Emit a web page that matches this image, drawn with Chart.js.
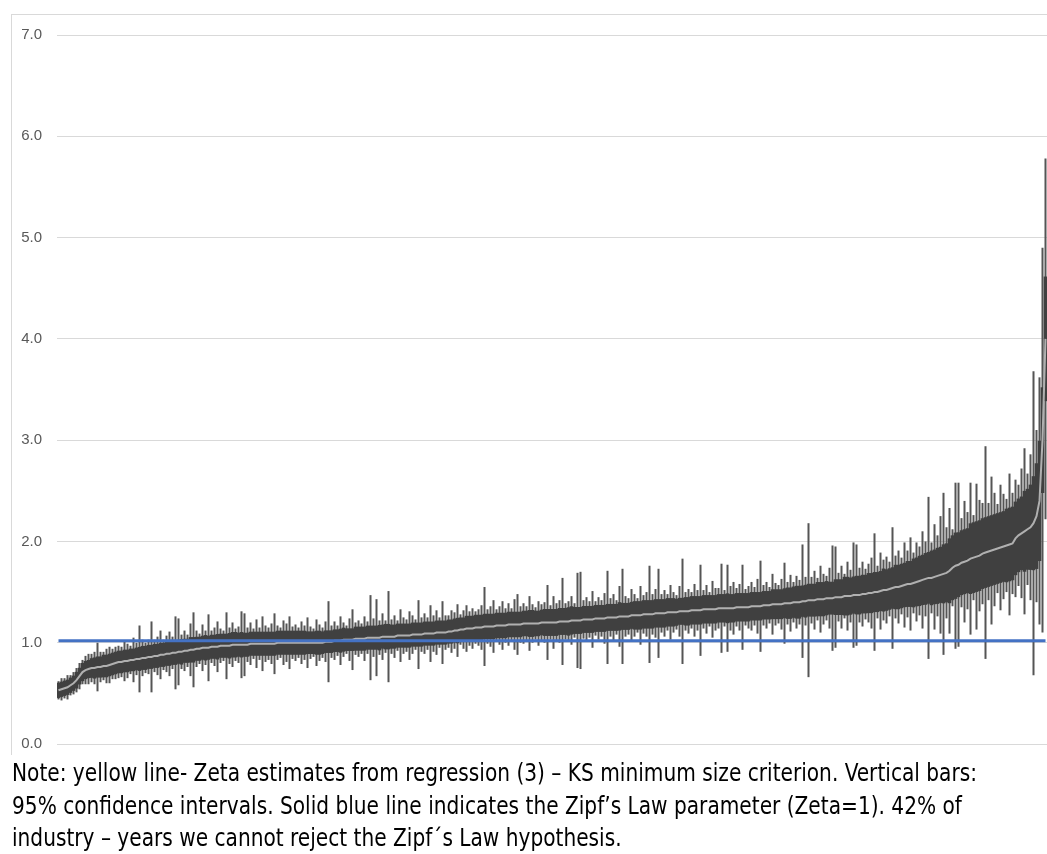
<!DOCTYPE html>
<html>
<head>
<meta charset="utf-8">
<script src="https://cdn.jsdelivr.net/npm/chart.js@4/dist/chart.umd.min.js"></script>
<style>
  body { margin: 0; background: #fff; width: 1047px; height: 854px; overflow: hidden; position: relative; }
  #frame { position: absolute; left: 11px; top: 14px; width: 1100px; height: 740px;
           border-left: 1.5px solid #d9d9d9; border-top: 1.5px solid #d9d9d9; }
  #c { position: absolute; left: 0; top: 0; }
  #note { position: absolute; left: 12px; top: 757px; transform-origin: 0 0;
          font-family: "DejaVu Sans Condensed", "Liberation Sans Narrow", "Liberation Sans", sans-serif;
          font-stretch: condensed;
          font-size: 24px; line-height: 32.5px; color: #000; }
  #note div { white-space: nowrap; width: max-content; }
</style>
</head>
<body>
<div id="frame"></div>
<canvas id="c" width="1047" height="768"></canvas>
<div id="note">
  <div>Note: yellow line- Zeta estimates from regression (3) – KS minimum size criterion. Vertical bars:</div>
  <div>95% confidence intervals. Solid blue line indicates the Zipf’s Law parameter (Zeta=1). 42% of</div>
  <div>industry – years we cannot reject the Zipf´s Law hypothesis.</div>
</div>
<script>
// zeta estimates, sorted (one per industry-year)
const zeta = [
  0.53,0.54,0.55,0.56,0.58,0.60,0.63,0.67,0.71,0.73,
  0.74,0.75,0.75,0.76,0.76,0.77,0.77,0.78,0.79,0.80,
  0.81,0.81,0.82,0.82,0.83,0.83,0.84,0.84,0.85,0.85,
  0.86,0.86,0.87,0.87,0.88,0.88,0.89,0.89,0.90,0.90,
  0.91,0.91,0.92,0.92,0.93,0.93,0.94,0.94,0.95,0.95,
  0.95,0.96,0.96,0.96,0.97,0.97,0.97,0.97,0.98,0.98,
  0.98,0.98,0.98,0.98,0.99,0.99,0.99,0.99,0.99,0.99,
  0.99,0.99,0.99,1.00,1.00,1.00,1.00,1.00,1.00,1.00,
  1.00,1.00,1.00,1.00,1.00,1.00,1.00,1.00,1.00,1.01,
  1.01,1.01,1.02,1.02,1.02,1.03,1.03,1.03,1.03,1.04,
  1.04,1.04,1.04,1.05,1.05,1.05,1.05,1.05,1.06,1.06,
  1.06,1.06,1.06,1.07,1.07,1.07,1.07,1.07,1.08,1.08,
  1.08,1.08,1.09,1.09,1.09,1.09,1.10,1.10,1.10,1.10,
  1.11,1.11,1.12,1.12,1.13,1.13,1.14,1.14,1.14,1.15,
  1.15,1.15,1.16,1.16,1.16,1.16,1.17,1.17,1.17,1.17,
  1.18,1.18,1.18,1.18,1.18,1.19,1.19,1.19,1.19,1.19,
  1.19,1.20,1.20,1.20,1.20,1.20,1.20,1.21,1.21,1.21,
  1.21,1.22,1.22,1.22,1.22,1.23,1.23,1.23,1.23,1.24,
  1.24,1.24,1.24,1.25,1.25,1.25,1.25,1.26,1.26,1.26,
  1.26,1.27,1.27,1.27,1.27,1.28,1.28,1.28,1.28,1.29,
  1.29,1.29,1.29,1.30,1.30,1.30,1.30,1.31,1.31,1.31,
  1.31,1.32,1.32,1.32,1.32,1.33,1.33,1.33,1.33,1.33,
  1.34,1.34,1.34,1.34,1.34,1.34,1.35,1.35,1.35,1.35,
  1.35,1.36,1.36,1.36,1.36,1.37,1.37,1.37,1.38,1.38,
  1.38,1.38,1.39,1.39,1.39,1.40,1.40,1.40,1.41,1.41,
  1.42,1.42,1.42,1.43,1.43,1.43,1.44,1.44,1.44,1.45,
  1.45,1.45,1.46,1.46,1.46,1.47,1.47,1.47,1.48,1.48,
  1.49,1.49,1.50,1.50,1.51,1.52,1.52,1.53,1.54,1.55,
  1.55,1.56,1.57,1.58,1.58,1.59,1.60,1.61,1.62,1.63,
  1.64,1.64,1.65,1.66,1.67,1.68,1.69,1.71,1.74,1.76,
  1.77,1.79,1.80,1.81,1.83,1.84,1.85,1.86,1.88,1.89,
  1.90,1.91,1.92,1.93,1.94,1.95,1.96,1.97,1.98,2.03,
  2.06,2.08,2.10,2.12,2.14,2.18,2.25,2.40,3.00,4.00
];

// half width of the 95% confidence interval
const halfCI = [
  0.09,0.11,0.10,0.12,0.10,0.11,0.12,0.13,0.12,0.14,
  0.15,0.14,0.16,0.24,0.15,0.14,0.17,0.18,0.15,0.16,
  0.16,0.15,0.20,0.17,0.14,0.22,0.16,0.33,0.18,0.15,
  0.17,0.35,0.16,0.19,0.24,0.15,0.18,0.22,0.16,0.36,
  0.33,0.17,0.20,0.16,0.26,0.37,0.18,0.15,0.23,0.17,
  0.33,0.16,0.19,0.25,0.17,0.15,0.33,0.18,0.22,0.16,
  0.18,0.33,0.31,0.17,0.21,0.15,0.24,0.16,0.27,0.18,
  0.16,0.20,0.30,0.17,0.15,0.22,0.19,0.26,0.16,0.18,
  0.15,0.21,0.17,0.25,0.16,0.14,0.23,0.18,0.15,0.20,
  0.40,0.16,0.19,0.15,0.24,0.17,0.14,0.21,0.30,0.16,
  0.18,0.15,0.22,0.16,0.42,0.19,0.38,0.17,0.23,0.16,
  0.45,0.17,0.21,0.15,0.26,0.18,0.16,0.24,0.19,0.15,
  0.34,0.17,0.20,0.16,0.28,0.18,0.22,0.15,0.31,0.17,
  0.16,0.21,0.18,0.26,0.15,0.19,0.23,0.17,0.20,0.16,
  0.18,0.22,0.39,0.17,0.20,0.26,0.16,0.19,0.24,0.17,
  0.21,0.16,0.25,0.30,0.18,0.20,0.17,0.27,0.19,0.16,
  0.22,0.18,0.20,0.37,0.17,0.26,0.19,0.21,0.43,0.18,
  0.20,0.24,0.17,0.47,0.48,0.19,0.22,0.18,0.28,0.17,
  0.21,0.18,0.25,0.46,0.19,0.23,0.17,0.30,0.47,0.20,
  0.18,0.26,0.21,0.17,0.29,0.19,0.22,0.48,0.20,0.24,
  0.44,0.19,0.23,0.18,0.27,0.20,0.17,0.25,0.52,0.19,
  0.22,0.18,0.26,0.20,0.45,0.19,0.24,0.17,0.28,0.21,
  0.20,0.44,0.18,0.43,0.22,0.26,0.19,0.23,0.42,0.18,
  0.21,0.24,0.19,0.27,0.45,0.20,0.23,0.18,0.30,0.21,
  0.19,0.25,0.40,0.21,0.28,0.20,0.26,0.22,0.56,0.24,
  0.76,0.23,0.29,0.21,0.33,0.25,0.22,0.30,0.52,0.50,
  0.24,0.31,0.22,0.34,0.26,0.52,0.50,0.27,0.32,0.25,
  0.29,0.35,0.58,0.26,0.38,0.30,0.33,0.27,0.60,0.31,
  0.36,0.28,0.42,0.33,0.46,0.30,0.39,0.34,0.48,0.37,
  0.80,0.35,0.52,0.40,0.58,0.80,0.45,0.62,0.38,0.82,
  0.81,0.44,0.60,0.48,0.75,0.42,0.72,0.55,0.50,1.05,
  0.48,0.73,0.56,0.44,0.62,0.52,0.46,0.70,0.50,0.58,
  0.50,0.64,0.82,0.55,0.72,1.50,0.85,1.22,1.90,1.78
];

const zipfValue = 1.02;
const yTicks = [0, 1, 2, 3, 4, 5, 6, 7];

const labels = zeta.map((v, i) => i + 1);

// dense core of the bars: clip each interval near the lower quartile of its neighbours
const core = halfCI.map((e, i) => {
  const win = halfCI.slice(Math.max(0, i - 5), i + 6).sort((a, b) => a - b);
  const q = win[Math.floor(win.length / 4)] * 0.72;
  return Math.min(e, q);
});

const ciFull = zeta.map((z, i) => [z - halfCI[i], z + halfCI[i]]);
const ciCore = zeta.map((z, i) => [z - core[i], z + core[i]]);

const ctx = document.getElementById("c").getContext("2d");
new Chart(ctx, {
  type: "bar",
  data: {
    labels: labels,
    datasets: [
      {
        type: "line",
        label: "Zipf",
        data: labels.map(() => zipfValue),
        borderColor: "#4472c4",
        borderWidth: 3,
        pointRadius: 0,
        order: 0
      },
      {
        type: "line",
        label: "Zeta",
        data: zeta,
        borderColor: "#b0b0b0",
        borderWidth: 2,
        pointRadius: 0,
        tension: 0,
        order: 1
      },
      {
        label: "core",
        data: ciCore,
        backgroundColor: "#404040",
        barPercentage: 1,
        categoryPercentage: 1,
        grouped: false,
        order: 2
      },
      {
        label: "95% CI",
        data: ciFull,
        backgroundColor: "#555555",
        barPercentage: 0.67,
        categoryPercentage: 1,
        grouped: false,
        order: 3
      }
    ]
  },
  options: {
    animation: false,
    responsive: false,
    layout: { padding: { top: 35, bottom: 9, right: 0, left: 0 } },
    scales: {
      x: { display: false },
      y: {
        min: 0,
        max: 7,
        afterFit: s => { s.width = 57; },
        afterBuildTicks: s => { s.ticks = yTicks.map(v => ({ value: v })); },
        border: { display: false },
        grid: { color: "#d9d9d9", lineWidth: 1, drawTicks: false },
        ticks: {
          padding: 15,
          color: "#595959",
          font: { family: "Liberation Sans", size: 15 },
          callback: v => v.toFixed(1)
        }
      }
    },
    plugins: {
      legend: { display: false },
      tooltip: { enabled: false }
    }
  }
});

const note = document.getElementById("note");
const w = note.firstElementChild.getBoundingClientRect().width;
note.style.transform = "scaleX(" + (965 / w) + ")";
</script>
</body>
</html>
